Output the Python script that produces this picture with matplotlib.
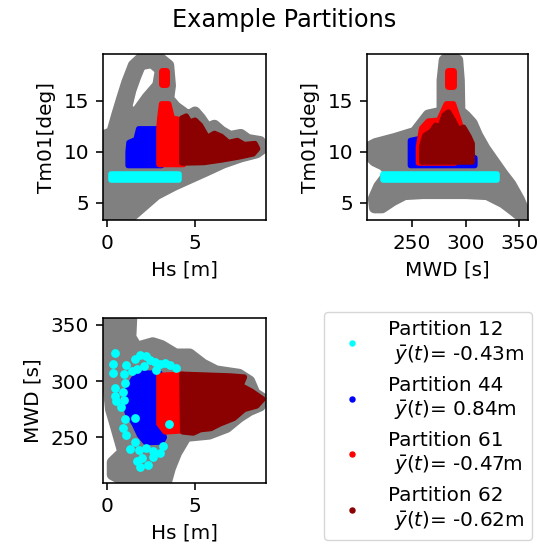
import matplotlib
matplotlib.use("Agg")
import matplotlib.pyplot as plt
from matplotlib.lines import Line2D

plt.rcParams.update({
    "font.size": 14.4,
    "axes.linewidth": 1.15,
    "xtick.major.size": 5,
    "ytick.major.size": 5,
    "xtick.major.width": 1.15,
    "ytick.major.width": 1.15,
    "xtick.major.pad": 5,
    "ytick.major.pad": 5,
    "axes.labelpad": 5.5,
})

# --- Hs vs Tm01: outline of all samples (gray) and of each partition
hs_tm_all_x = [-0.15, 1.4, 2.0, 2.8, 3.8, 4.7, 5.6, 6.6, 7.6, 8.5, 8.9, 8.7, 8.0, 7.6, 7.0, 6.5,
               6.1, 5.7, 5.3, 5.0, 4.6, 4.3, 3.9, 3.5, 3.6, 3.5, 3.0, 2.45, 2.0, 1.5, 1.12,
               0.83, 0.55, 0.27, -0.15]
hs_tm_all_y = [3.7, 3.7, 4.6, 5.8, 6.7, 7.4, 8.1, 8.9, 9.5, 9.9, 10.4, 11.0, 11.2, 11.7, 11.5, 12.0,
               12.6, 12.3, 13.3, 13.9, 13.5, 13.9, 14.4, 15.2, 16.5, 18.5, 19.2, 19.5, 19.3, 18.5, 16.8,
               15.2, 13.6, 11.9, 11.6]
hs_tm_hole_x = [2.44, 2.65, 2.55, 2.0, 1.5, 1.7, 1.97, 2.16]
hs_tm_hole_y = [18.1, 17.8, 16.8, 15.7, 14.5, 15.9, 17.2, 18.0]

p12_hs_tm_x = [0.25, 4.1, 4.1, 0.25]
p12_hs_tm_y = [7.2, 7.2, 7.85, 7.85]
p44_hs_tm_x = [1.2, 3.1, 3.1, 1.8, 1.65, 1.25, 1.2]
p44_hs_tm_y = [8.65, 8.65, 12.25, 12.25, 11.2, 10.9, 10.0]
p61_hs_tm_x = [2.95, 4.35, 4.35, 4.0, 3.7, 3.5, 3.1, 3.0, 2.95]
p61_hs_tm_y = [8.75, 8.75, 12.8, 13.2, 13.3, 14.7, 14.7, 13.3, 12.2]
p61_hs_tm_top_x = [3.1, 3.35, 3.35, 3.1]
p61_hs_tm_top_y = [16.7, 16.7, 17.9, 17.9]
p62_hs_tm_x = [4.25, 5.5, 6.5, 7.5, 8.3, 8.55, 8.4, 7.8, 7.4, 6.9, 6.5, 6.1, 5.7, 5.3, 5.0, 4.7,
               4.5, 4.25]
p62_hs_tm_y = [8.9, 8.95, 9.2, 9.5, 9.8, 10.3, 10.8, 10.7, 11.1, 10.9, 11.5, 11.8, 11.4, 12.6, 13.1, 12.9,
               13.5, 13.3]

# --- MWD vs Tm01
mwd_tm_all_x = [286.0, 292.5, 294.0, 294.5, 300.0, 306.0, 311.0, 318.0, 326.0, 334.0, 342.0, 350.0,
                357.0, 352.0, 345.0, 335.0, 320.0, 300.0, 280.0, 260.0, 243.0, 232.0, 222.0, 215.0,
                214.0, 219.0, 224.0, 229.0, 223.0, 215.0, 210.5, 210.5, 216.0, 234.0, 252.5, 265.0,
                278.0, 278.0, 280.0]
mwd_tm_all_y = [19.5, 19.0, 17.0, 14.0, 13.5, 12.8, 11.6, 10.3, 9.1, 7.9, 6.8, 5.3,
                3.6, 3.6, 4.2, 5.0, 5.8, 5.9, 5.9, 5.9, 5.8, 5.2, 4.5, 4.5,
                5.4, 6.6, 7.3, 8.1, 8.7, 9.1, 9.6, 10.5, 10.8, 11.3, 11.9, 13.6,
                13.9, 17.0, 19.0]
p12_mwd_tm_x = [222.5, 329.5, 329.5, 222.5]
p12_mwd_tm_y = [7.2, 7.2, 7.85, 7.85]
p44_mwd_tm_x = [248.5, 308.5, 308.5, 290.0, 267.0, 262.0, 258.0, 248.5]
p44_mwd_tm_y = [8.65, 8.65, 9.4, 10.0, 12.3, 12.4, 11.3, 11.1]
p61_mwd_tm_x = [256.0, 290.0, 296.0, 293.0, 288.5, 282.0, 275.0, 265.0, 259.0, 256.0]
p61_mwd_tm_y = [8.9, 8.9, 12.3, 13.3, 14.7, 14.7, 13.1, 13.0, 12.3, 10.5]
p61_mwd_tm_top_x = [283.5, 288.5, 288.5, 283.5]
p61_mwd_tm_top_y = [16.5, 16.5, 17.9, 17.9]
p62_mwd_tm_x = [259.0, 306.0, 306.0, 303.0, 298.0, 293.0, 289.0, 284.0, 280.0, 276.0, 272.0, 268.0,
                262.0, 259.0]
p62_mwd_tm_y = [9.0, 9.0, 10.8, 11.5, 12.4, 12.2, 13.0, 13.9, 13.6, 12.4, 12.6, 12.0,
                11.6, 10.5]

# --- Hs vs MWD
hs_mwd_all_x = [-0.15, 1.4, 1.35, 1.7, 2.6, 3.1, 3.9, 4.7, 5.45, 6.2, 7.5, 8.1, 8.4, 8.9, 8.7, 8.1,
                7.5, 6.8, 5.8, 4.5, 3.95, 3.6, 3.4, 0.9, 0.3, 0.3, 0.9, 0.5, 0.2, -0.05, -0.15]
hs_mwd_all_y = [355.5, 355.5, 339.0, 330.0, 334.0, 331.5, 324.0, 324.0, 315.0, 309.0, 306.0, 300.0,
                289.0, 284.0, 278.0, 274.0, 268.0, 259.0, 253.0, 251.0, 236.5, 223.0, 212.0, 212.0,
                217.0, 228.0, 237.0, 259.0, 275.0, 312.0, 347.0]
p44_hs_mwd_x = [1.9, 3.0, 3.1, 3.1, 3.25, 3.1, 2.2, 1.85, 1.55, 1.15, 1.1, 1.15, 1.5]
p44_hs_mwd_y = [307.0, 307.0, 300.0, 258.0, 250.0, 246.0, 245.5, 252.0, 262.0, 272.0, 282.0, 292.0, 302.0]
p61_hs_mwd_x = [2.95, 4.3, 4.3, 3.3, 2.95]
p61_hs_mwd_y = [305.0, 306.0, 256.0, 255.0, 262.0]
p62_hs_mwd_x = [4.25, 7.0, 7.8, 7.6, 8.2, 8.85, 8.5, 7.8, 7.2, 6.4, 5.9, 5.3, 4.9, 4.3]
p62_hs_mwd_y = [306.0, 304.5, 303.5, 296.0, 291.0, 284.0, 278.0, 275.0, 267.0, 262.0, 258.0, 257.0,
                254.0, 255.0]
p12_hs_mwd_x = [0.44, 0.36, 0.36, 0.44, 0.44, 0.5, 0.8,
                1.05, 0.95, 1.0, 0.9, 0.95,
                1.6, 1.9, 2.2, 2.45, 2.7, 3.0, 3.3, 3.6, 3.9, 2.1, 1.7, 1.4, 2.8,
                1.0, 0.9, 1.1, 1.6, 1.3, 1.8, 2.2, 2.6, 3.0, 3.2, 2.0, 1.7, 1.9, 2.3, 2.6, 3.5, 1.57]
p12_hs_mwd_y = [325, 315, 307, 294, 287, 282, 277,
                314, 306, 298, 290, 283,
                320, 323, 322, 319, 317, 315, 316, 314, 312, 313, 311, 309, 310,
                266, 258, 252, 246, 240, 239, 241, 238, 236, 242, 232, 229, 224, 226, 233, 262, 267]

colors = ["cyan", "blue", "red", "darkred"]
labels = ["Partition 12\n $\\bar{y}(t)$= -0.43m",
          "Partition 44\n $\\bar{y}(t)$= 0.84m",
          "Partition 61\n $\\bar{y}(t)$= -0.47m",
          "Partition 62\n $\\bar{y}(t)$= -0.62m"]


def blob(ax, x, y, color, lw):
    ax.fill(x, y, color=color, lw=lw, joinstyle="round")


fig = plt.figure(figsize=(5.4, 5.51), dpi=100)
fig.suptitle("Example Partitions", x=0.527, y=0.985, fontsize=17.3)

ax1 = fig.add_axes([0.1907, 0.6007, 0.3019, 0.3013])
blob(ax1, hs_tm_all_x, hs_tm_all_y, "gray", 8)
blob(ax1, hs_tm_hole_x, hs_tm_hole_y, "white", 1)
blob(ax1, p12_hs_tm_x, p12_hs_tm_y, colors[0], 4)
blob(ax1, p44_hs_tm_x, p44_hs_tm_y, colors[1], 4)
blob(ax1, p61_hs_tm_x, p61_hs_tm_y, colors[2], 4)
blob(ax1, p61_hs_tm_top_x, p61_hs_tm_top_y, colors[2], 5)
blob(ax1, p62_hs_tm_x, p62_hs_tm_y, colors[3], 4)
ax1.set_xlim(-0.23, 9.03)
ax1.set_ylim(3.3, 19.6)
ax1.set_xticks([0, 5])
ax1.set_yticks([5, 10, 15])
ax1.set_xlabel("Hs [m]")
ax1.set_ylabel("Tm01[deg]")

ax2 = fig.add_axes([0.6796, 0.6007, 0.2981, 0.3013])
blob(ax2, mwd_tm_all_x, mwd_tm_all_y, "gray", 8)
blob(ax2, p12_mwd_tm_x, p12_mwd_tm_y, colors[0], 4)
blob(ax2, p44_mwd_tm_x, p44_mwd_tm_y, colors[1], 4)
blob(ax2, p61_mwd_tm_x, p61_mwd_tm_y, colors[2], 4)
blob(ax2, p61_mwd_tm_top_x, p61_mwd_tm_top_y, colors[2], 5)
blob(ax2, p62_mwd_tm_x, p62_mwd_tm_y, colors[3], 4)
ax2.set_xlim(208, 358)
ax2.set_ylim(3.3, 19.6)
ax2.set_xticks([250, 300, 350])
ax2.set_yticks([5, 10, 15])
ax2.set_xlabel("MWD [s]")
ax2.set_ylabel("Tm01[deg]")

ax3 = fig.add_axes([0.1907, 0.1234, 0.3019, 0.2995])
blob(ax3, hs_mwd_all_x, hs_mwd_all_y, "gray", 8)
ax3.scatter(p12_hs_mwd_x, p12_hs_mwd_y, s=40, color=colors[0], lw=0, zorder=2)
blob(ax3, p44_hs_mwd_x, p44_hs_mwd_y, colors[1], 4)
blob(ax3, p61_hs_mwd_x, p61_hs_mwd_y, colors[2], 4)
blob(ax3, p62_hs_mwd_x, p62_hs_mwd_y, colors[3], 4)
ax3.set_xlim(-0.23, 9.03)
ax3.set_ylim(209.6, 356)
ax3.set_xticks([0, 5])
ax3.set_yticks([250, 300, 350])
ax3.set_xlabel("Hs [m]")
ax3.set_ylabel("MWD [s]")

handles = [Line2D([], [], ls="none", marker="o", ms=3.6, color=c) for c in colors]
fig.legend(handles, labels, loc="center", bbox_to_anchor=(0.7917, 0.2269))

fig.savefig("out.png", dpi=100)
